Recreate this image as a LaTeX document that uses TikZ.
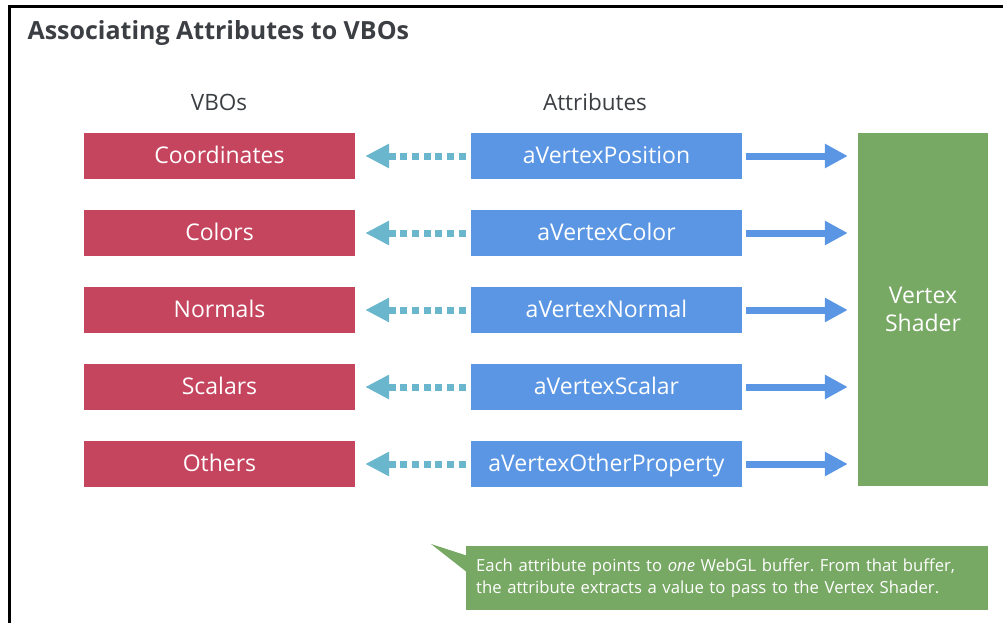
\documentclass[tikz,border=0pt]{standalone}
\usepackage{fontspec}
\setmainfont{Open Sans}
\usetikzlibrary{positioning,arrows.meta}
\definecolor{vboRed}{HTML}{C5455F}
\definecolor{attrBlue}{HTML}{5A96E3}
\definecolor{shaderGreen}{HTML}{77A864}
\definecolor{linkTeal}{HTML}{6AB6CC}
\definecolor{inkGray}{HTML}{3B3E42}
\frenchspacing

\begin{document}
\begin{tikzpicture}[x=1pt,y=-1pt,
        box/.style={text=white,inner sep=0pt,minimum width=271pt,minimum height=46pt,
            text height=17pt,text depth=3pt,font=\fontsize{23}{27}\selectfont},
        vbo/.style={box,fill=vboRed},
        attr/.style={box,fill=attrBlue},
        head/.style={text=inkGray,font=\fontsize{22.5}{27}\selectfont},
        link/.style={linkTeal,line width=7pt,dash pattern=on 7pt off 4.7pt,
            -{Triangle[length=24pt,width=23pt]},shorten <=5pt,shorten >=10pt},
        feed/.style={attrBlue,line width=7pt,
            -{Triangle[length=23pt,width=23pt]},shorten <=4pt,shorten >=10pt}]
    \useasboundingbox (0,0) rectangle (1003,623);
    \draw[line width=3pt] (9.5,623) -- (9.5,6.5) -- (1003,6.5);
    \node[anchor=base west,text=inkGray,font=\fontsize{25}{29}\selectfont\bfseries]
        (title) at (24,40) {Associating Attributes to VBOs};
    \node[head] (hvbo) at (219,102) {VBOs};
    \node[head] (hattr) at (595,102) {Attributes};
    \node[fill=shaderGreen,text=white,inner sep=0pt,minimum width=130pt,minimum height=353pt,
        align=center,font=\fontsize{23}{28}\selectfont] (shader) at (923,309.5) {Vertex\\Shader};
    \foreach \v/\a [count=\i] in {Coordinates/aVertexPosition,Colors/aVertexColor,
        Normals/aVertexNormal,Scalars/aVertexScalar,Others/aVertexOtherProperty}{%
            \node[vbo] (vbo\i) at (219.5,{156+77*(\i-1)}) {\v};
            \node[attr] (attr\i) at (606.5,{156+77*(\i-1)}) {\a};
            \draw[link] (attr\i.west) -- (vbo\i.east);
            \draw[feed] (attr\i.east) -- (attr\i.east -| shader.west);
        }
    \node[fill=shaderGreen,text=white,anchor=north west,inner xsep=10pt,inner ysep=0pt,
        minimum height=64pt,text width=502pt,align=left,
        font=\fontsize{16.7}{22}\selectfont] (note) at (466,546)
        {Each attribute points to \emph{one} WebGL buffer. From that buffer,\\
         the attribute extracts a value to pass to the Vertex Shader.};
    \coordinate (tip) at (431,544);
    \fill[shaderGreen] (tip) -- ([xshift=2pt,yshift=-10pt]note.north west)
        -- ([xshift=2pt,yshift=-27pt]note.north west) -- cycle;
\end{tikzpicture}
\end{document}
